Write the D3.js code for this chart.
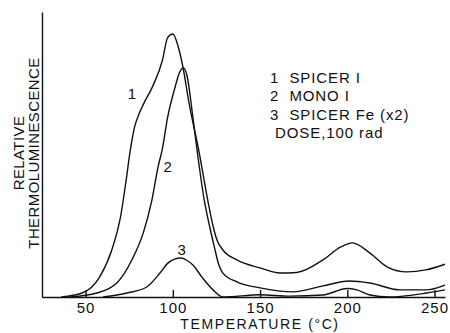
<!DOCTYPE html>
<html>
<head>
<meta charset="utf-8">
<script src="https://cdn.jsdelivr.net/npm/d3@7"></script>
<style>
  body { margin: 0; background: #fff; }
  svg { display: block; font-family: "Liberation Sans", "DejaVu Sans", sans-serif; }
  .curve { fill: none; stroke: #111; stroke-width: 1.4; }
  .axis path, .axis line { stroke: #111; stroke-width: 1.4; }
  .axis text { font-size: 15px; fill: #111; letter-spacing: 1px; }
  .lbl { font-size: 15px; fill: #111; }
  .legend text { font-size: 15px; fill: #111; letter-spacing: 0.9px; }
</style>
</head>
<body>
<svg id="chart" width="450" height="333"></svg>
<script>
// temperatures (deg C) and relative TL
const spicerT = [36, 48, 58, 65, 70, 73, 75.5, 78, 80.5, 83, 88.5, 94, 97, 100, 103, 106, 109, 115, 120, 123, 125.3, 128.7, 136.7, 150, 161.5, 171, 186, 196, 203, 213, 223, 234, 245, 256];
const spicerV = [0, 1.4, 7, 16.5, 28, 40, 51, 59.5, 64, 67.5, 74, 83, 91, 92.3, 88, 80, 69, 51, 34, 25, 20, 16.5, 13, 10.2, 8.4, 8.6, 13, 17.5, 19, 15.4, 10.5, 8.8, 9.5, 11.5];

const monoT = [41, 56.5, 68, 76.5, 83, 88, 91.5, 94, 97, 101, 104, 106, 108, 111.5, 114, 118, 121, 124, 126, 128.7, 136.7, 150, 169, 186, 201, 213, 230, 245, 256];
const monoV = [0, 1.4, 5, 13, 22.4, 34, 45.6, 52, 63, 73, 79, 80.4, 78, 63, 51, 34, 25, 17, 12, 8.4, 5.3, 3.2, 1.8, 3.9, 5.6, 4.9, 2.5, 2.5, 4.2];

const feT = [60, 73.7, 85, 92.6, 97, 101, 104.5, 108, 111.5, 117, 123, 128.7, 150, 167, 186, 200, 205.5, 213, 224, 245.5, 256];
const feV = [0, 1.4, 3.5, 8.4, 11.8, 13.3, 13.7, 12.9, 11.2, 6.7, 2.5, 0, 0.8, 0.3, 0.7, 3, 2.5, 0.7, 0, 1.4, 2.5];

const xTicks = [50, 100, 150, 200, 250];
const legendLines = ["1  SPICER I", "2  MONO I", "3  SPICER Fe (x2)", " DOSE,100 rad"];
const curveLabels = [
  { text: "1", t: 76.5, v: 69.5 },
  { text: "2", t: 97, v: 44 },
  { text: "3", t: 105, v: 14.8 },
];

const svg = d3.select("#chart");
const x = d3.scaleLinear().domain([25, 256]).range([42, 445]);
const y = d3.scaleLinear().domain([0, 100]).range([297, 12]);

const line = d3.line()
  .x((d) => x(d[0]))
  .y((d) => y(d[1]))
  .curve(d3.curveMonotoneX);

const series = [
  d3.zip(spicerT, spicerV),
  d3.zip(monoT, monoV),
  d3.zip(feT, feV),
];

svg.selectAll(".curve")
  .data(series)
  .enter()
  .append("path")
  .attr("class", "curve")
  .attr("d", line);

// axes
const xAxis = svg.append("g")
  .attr("class", "axis")
  .attr("transform", `translate(0,${y(0)})`)
  .call(d3.axisBottom(x).tickValues(xTicks).tickSize(-7).tickSizeOuter(0).tickPadding(5));
xAxis.selectAll("line").attr("stroke-width", 0.8);
xAxis.selectAll("text").attr("font-family", null).attr("font-size", null);

svg.append("g")
  .attr("class", "axis")
  .attr("transform", `translate(${x(25)},0)`)
  .call(d3.axisLeft(y).tickValues([]).tickSizeOuter(0));

svg.append("text")
  .attr("class", "lbl")
  .attr("x", 260)
  .attr("y", 329)
  .attr("text-anchor", "middle")
  .style("font-size", "14px")
  .style("letter-spacing", "1.6px")
  .text("TEMPERATURE (°C)");

const yl = svg.append("text")
  .attr("class", "lbl")
  .attr("transform", "translate(24,153) rotate(-90)")
  .attr("text-anchor", "middle")
  .style("letter-spacing", "0.4px");
yl.append("tspan").attr("x", 0).attr("dy", 0).text("RELATIVE");
yl.append("tspan").attr("x", 0).attr("dy", 15).text("THERMOLUMINESCENCE");

// curve numbers
svg.selectAll(".cnum")
  .data(curveLabels)
  .enter()
  .append("text")
  .attr("class", "lbl")
  .attr("x", (d) => x(d.t))
  .attr("y", (d) => y(d.v))
  .attr("text-anchor", "middle")
  .text((d) => d.text);

const legend = svg.append("g").attr("class", "legend");
legend.selectAll("text")
  .data(legendLines)
  .enter()
  .append("text")
  .attr("x", 270)
  .attr("y", (d, i) => 83 + i * 18.3)
  .attr("xml:space", "preserve")
  .style("white-space", "pre")
  .text((d) => d);
</script>
</body>
</html>
